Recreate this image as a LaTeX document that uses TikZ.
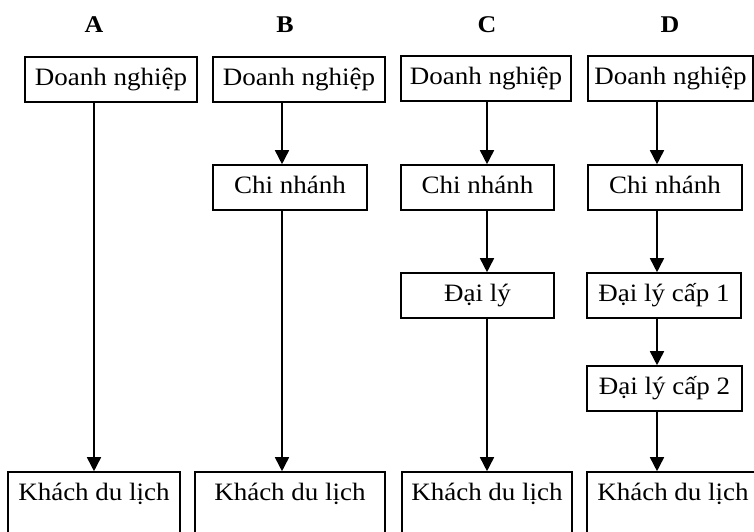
\documentclass[tikz,border=0pt]{standalone}
\usepackage{fontspec}
\setmainfont{Liberation Serif}[FakeStretch=1.08]
\usetikzlibrary{arrows.meta}
\begin{document}
\begin{tikzpicture}[x=1pt,y=1pt,
  box/.style={draw, line width=1.6pt, inner sep=0pt, anchor=base,
    text height=28pt, text depth=17pt,
    font=\fontsize{25}{29}\selectfont},
  lastbox/.style={box, text depth=70pt},
  head/.style={anchor=base, inner sep=0pt, font=\fontsize{24}{28}\selectfont\bfseries},
  flow/.style={line width=1.6pt, -{Triangle[length=14pt,width=14pt]}}]
\useasboundingbox (0,0) rectangle (754,-531);

% column headings
\node[head] (hA) at (94,-32) {A};
\node[head] (hB) at (285,-32) {B};
\node[head] (hC) at (487,-32) {C};
\node[head] (hD) at (670,-32) {D};

% connector lines of each column
\coordinate (colA) at (94,0);
\coordinate (colB) at (282,0);
\coordinate (colC) at (487,0);
\coordinate (colD) at (657,0);

% column A
\node[box, minimum width=172pt] (dA) at (111,-85) {Doanh nghiệp};
\node[lastbox, minimum width=172pt] (kA) at (94,-500) {Khách du lịch};
\draw[flow] (dA.south -| colA) -- (kA.north -| colA);

% column B
\node[box, minimum width=172pt] (dB) at (299,-85) {Doanh nghiệp};
\node[box, minimum width=154pt] (cB) at (290,-193) {Chi nhánh};
\node[lastbox, minimum width=190pt] (kB) at (290,-500) {Khách du lịch};
\draw[flow] (dB.south -| colB) -- (cB.north -| colB);
\draw[flow] (cB.south -| colB) -- (kB.north -| colB);

% column C
\node[box, minimum width=170pt] (dC) at (486,-84) {Doanh nghiệp};
\node[box, minimum width=153pt] (cC) at (477.5,-193) {Chi nhánh};
\node[box, minimum width=153pt] (lC) at (477.5,-301) {Đại lý};
\node[lastbox, minimum width=170pt] (kC) at (487,-500) {Khách du lịch};
\draw[flow] (dC.south -| colC) -- (cC.north -| colC);
\draw[flow] (cC.south -| colC) -- (lC.north -| colC);
\draw[flow] (lC.south -| colC) -- (kC.north -| colC);

% column D
\node[box, minimum width=165pt] (dD) at (670.5,-84) {Doanh nghiệp};
\node[box, minimum width=154pt] (cD) at (665,-193) {Chi nhánh};
\node[box, minimum width=154pt] (l1D) at (664,-301) {Đại lý cấp 1};
\node[box, minimum width=155pt] (l2D) at (664.5,-394) {Đại lý cấp 2};
\node[lastbox, minimum width=172pt] (kD) at (673,-500) {Khách du lịch};
\draw[flow] (dD.south -| colD) -- (cD.north -| colD);
\draw[flow] (cD.south -| colD) -- (l1D.north -| colD);
\draw[flow] (l1D.south -| colD) -- (l2D.north -| colD);
\draw[flow] (l2D.south -| colD) -- (kD.north -| colD);
\end{tikzpicture}
\end{document}
